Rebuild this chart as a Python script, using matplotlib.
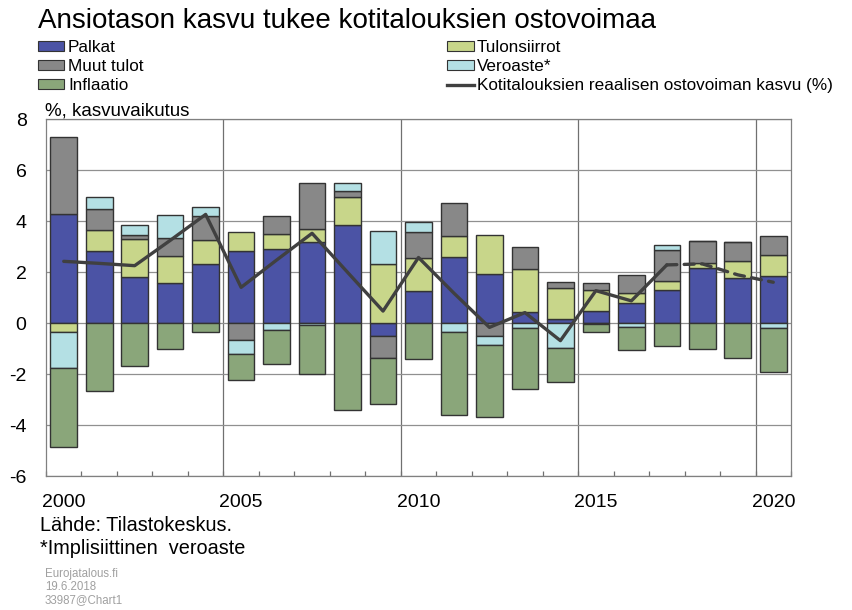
import matplotlib
matplotlib.use("Agg")
import matplotlib.pyplot as plt
import numpy as np
from matplotlib.patches import Patch
from matplotlib.lines import Line2D

plt.rcParams['font.family'] = ['Liberation Sans', 'DejaVu Sans']

years = list(range(2000, 2021))
palkat = [4.27, 2.85, 1.83, 1.57, 2.33, 2.85, 2.90, 3.19, 3.86, -0.50, 1.27,
          2.61, 1.93, 0.46, 0.16, 0.48, 0.81, 1.31, 2.16, 1.76, 1.86]
tulonsiirrot = [-0.33, 0.81, 1.46, 1.05, 0.94, 0.72, 0.60, 0.52, 1.11, 2.33, 1.28,
                0.82, 1.53, 1.67, 1.24, 0.82, 0.39, 0.35, 0.22, 0.68, 0.82]
muut_tulot = [3.02, 0.81, 0.16, 0.72, 0.95, -0.65, 0.72, 1.80, 0.22, -0.85, 1.02,
              1.29, -0.48, 0.85, 0.21, 0.30, 0.69, 1.22, 0.86, 0.75, 0.75]
veroaste = [-1.41, 0.47, 0.41, 0.89, 0.33, -0.56, -0.26, -0.05, 0.30, 1.29, 0.42,
            -0.35, -0.39, -0.20, -0.95, -0.02, -0.16, 0.20, 0.0, 0.0, -0.20]
inflaatio = [-3.12, -2.64, -1.66, -1.02, -0.33, -1.01, -1.33, -1.95, -3.40, -1.82, -1.41,
             -3.24, -2.82, -2.39, -1.36, -0.31, -0.89, -0.88, -1.01, -1.37, -1.70]
ostovoima = [2.43, 2.35, 2.26, 3.25, 4.27, 1.41, 2.48, 3.53, 2.00, 0.48, 2.58,
             1.18, -0.16, 0.42, -0.68, 1.28, 0.88, 2.29, 2.33, 1.90, 1.61]
forecast_start = 2017

series = [
    ("Palkat", palkat, "#4b53a5"),
    ("Tulonsiirrot", tulonsiirrot, "#c8d68a"),
    ("Muut tulot", muut_tulot, "#888888"),
    ("Veroaste*", veroaste, "#b4e0e4"),
    ("Inflaatio", inflaatio, "#8aa67a"),
]
line_label = "Kotitalouksien reaalisen ostovoiman kasvu (%)"

fig = plt.figure(figsize=(8.53, 6.10), dpi=100)
ax = fig.add_axes([46/853, 1-476.3/610, (791-46)/853, (476.3-119.3)/610])

x = np.arange(len(years))
pos_b = np.zeros(len(years))
neg_b = np.zeros(len(years))
for name, vals, col in series:
    v = np.array(vals, dtype=float)
    bottoms = np.where(v >= 0, pos_b, neg_b)
    ax.bar(x, v, bottom=bottoms, width=0.75, color=col, edgecolor="#333333",
           linewidth=1.0, zorder=3)
    pos_b = pos_b + np.where(v >= 0, v, 0)
    neg_b = neg_b + np.where(v < 0, v, 0)

k = years.index(forecast_start)
ov = np.array(ostovoima)
ax.plot(x[:k+1], ov[:k+1], color="#404040", lw=2.4, zorder=4, solid_capstyle='round')
ax.plot(x[k:], ov[k:], color="#404040", lw=2.4, zorder=4, ls=(0, (3, 2.2)),
        dash_capstyle='round')

ax.set_xlim(-0.5, len(years) - 0.5)
ax.set_ylim(-6, 8)
ax.set_yticks(range(-6, 9, 2))
ax.set_yticklabels([str(v) for v in range(-6, 9, 2)], fontsize=14)
ax.tick_params(axis='y', length=0, pad=14)
ax.yaxis.grid(True, color="#909090", lw=0.9, zorder=0)

lab_idx = [i for i, y in enumerate(years) if y % 5 == 0]
ax.set_xticks(lab_idx)
ax.set_xticklabels([str(years[i]) for i in lab_idx], fontsize=14)
ax.tick_params(axis='x', which='major', length=0, pad=13)
ax.set_xticks(np.arange(-0.5, len(years), 1.0), minor=True)
ax.tick_params(axis='x', which='minor', direction='in', length=3.5, color="#707070", width=0.9)
for i in lab_idx[1:]:
    ax.axvline(i - 0.5, color="#707070", lw=0.9, zorder=1)
for s in ax.spines.values():
    s.set_color("#808080")
    s.set_linewidth(0.9)

h = [Patch(facecolor=c, edgecolor="#333333", lw=0.8) for _, _, c in series]
leg1 = fig.legend([h[0], h[2], h[4]], ["Palkat", "Muut tulot", "Inflaatio"],
                  loc="upper left", bbox_to_anchor=(38/853, 1-40/610), frameon=False,
                  fontsize=12.3, handlelength=1.5, handleheight=0.5, handletextpad=0.25,
                  labelspacing=0.24, borderpad=0, borderaxespad=0)
lh = Line2D([], [], color="#404040", lw=2.4)
leg2 = fig.legend([h[1], h[3], lh], ["Tulonsiirrot", "Veroaste*", line_label],
                  loc="upper left", bbox_to_anchor=(447/853, 1-40/610), frameon=False,
                  fontsize=12.3, handlelength=1.6, handleheight=0.5, handletextpad=0.15,
                  labelspacing=0.24, borderpad=0, borderaxespad=0)

fig.text(38/853, 1-28/610, "Ansiotason kasvu tukee kotitalouksien ostovoimaa",
         fontsize=20, va='baseline', ha='left')
fig.text(45/853, 1-116/610, "%, kasvuvaikutus", fontsize=13.5, va='baseline', ha='left')
fig.text(40/853, 1-531/610, "Lähde: Tilastokeskus.", fontsize=14.3, va='baseline', ha='left')
fig.text(40/853, 1-554/610, "*Implisiittinen  veroaste", fontsize=14.3, va='baseline', ha='left')
for i, t in enumerate(["Eurojatalous.fi", "19.6.2018", "33987@Chart1"]):
    fig.text(45/853, 1-(577+13*i)/610, t, fontsize=8.3, color="#a0a0a0",
             va='baseline', ha='left')

fig.savefig("out.png", dpi=100)
